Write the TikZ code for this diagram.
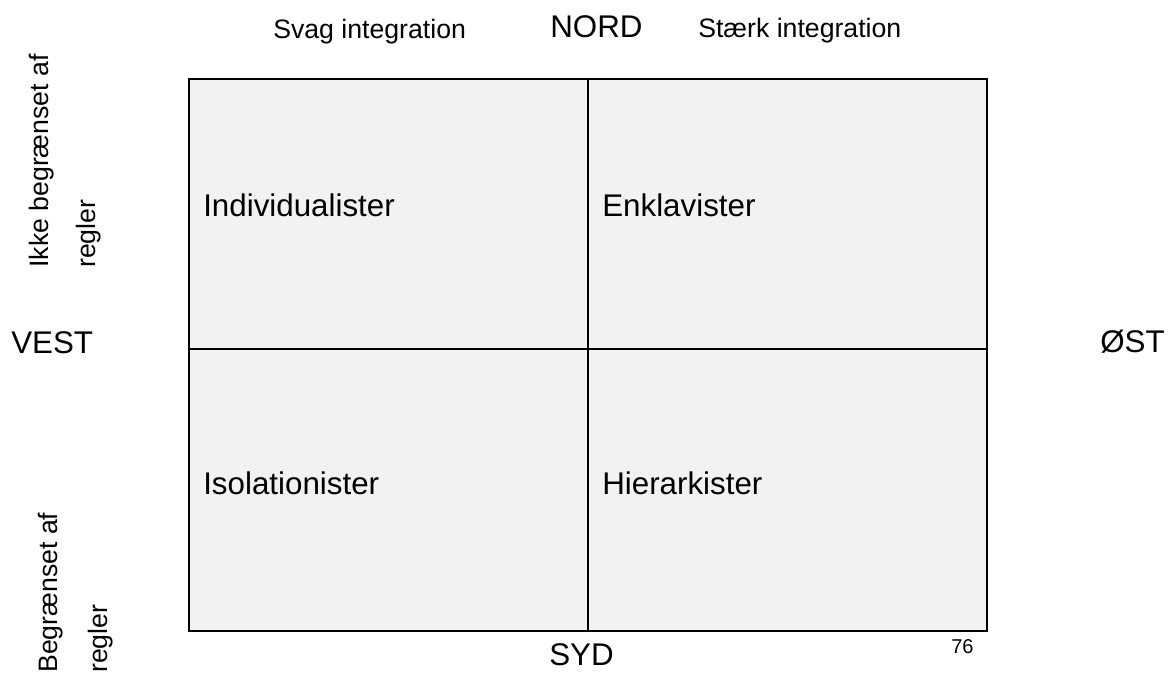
\documentclass[tikz,border=0pt]{standalone}
\usepackage{fontspec}
\setmainfont{Liberation Sans}
\begin{document}
\begin{tikzpicture}[x=0.75pt,y=-0.75pt,
  big/.style={inner sep=0pt,font=\fontsize{23.5pt}{28pt}\selectfont},
  small/.style={inner sep=0pt,font=\fontsize{20pt}{24pt}\selectfont},
  tiny/.style={inner sep=0pt,font=\fontsize{15pt}{18pt}\selectfont},
  gridline/.style={line width=1.5pt,draw=black}]
\useasboundingbox (0,0) rectangle (1168,674);
\definecolor{cellgray}{HTML}{F2F2F2}

% the four cells
\coordinate (nw) at (189,79);
\coordinate (se) at (987,631);
\coordinate (n) at (588,79);
\coordinate (s) at (588,631);
\coordinate (w) at (189,349);
\coordinate (e) at (987,349);
\fill[cellgray] (nw) rectangle (se);
\draw[gridline] (nw) rectangle (se);
\draw[gridline] (n) -- (s);
\draw[gridline] (w) -- (e);

% cell labels
\node[big,anchor=base west] (indiv) at (203,216) {Individualister};
\node[big,anchor=base west] (enkl) at (602,216) {Enklavister};
\node[big,anchor=base west] (isol) at (203,494) {Isolationister};
\node[big,anchor=base west] (hier) at (602,494) {Hierarkister};

% compass points
\node[big,anchor=base west] (nord) at (550,38) {NORD};
\node[big,anchor=base west] (syd) at (549,665) {SYD};
\node[big,anchor=base west] (vest) at (11,353) {VEST};
\node[big,anchor=base west] (oest) at (1100,352) {ØST};

% axis captions
\node[small,anchor=base west] (svag) at (273,39) {Svag integration};
\node[small,anchor=base west] (staerk) at (698,38) {Stærk integration};
\node[small,anchor=base west,rotate=90] (ikke1) at (48,268) {Ikke begrænset af};
\node[small,anchor=base west,rotate=90] (ikke2) at (95,268) {regler};
\node[small,anchor=base west,rotate=90] (begr1) at (57,673) {Begrænset af};
\node[small,anchor=base west,rotate=90] (begr2) at (107,673) {regler};

% page number
\node[tiny,anchor=base west] (page) at (951,653) {76};
\end{tikzpicture}
\end{document}
